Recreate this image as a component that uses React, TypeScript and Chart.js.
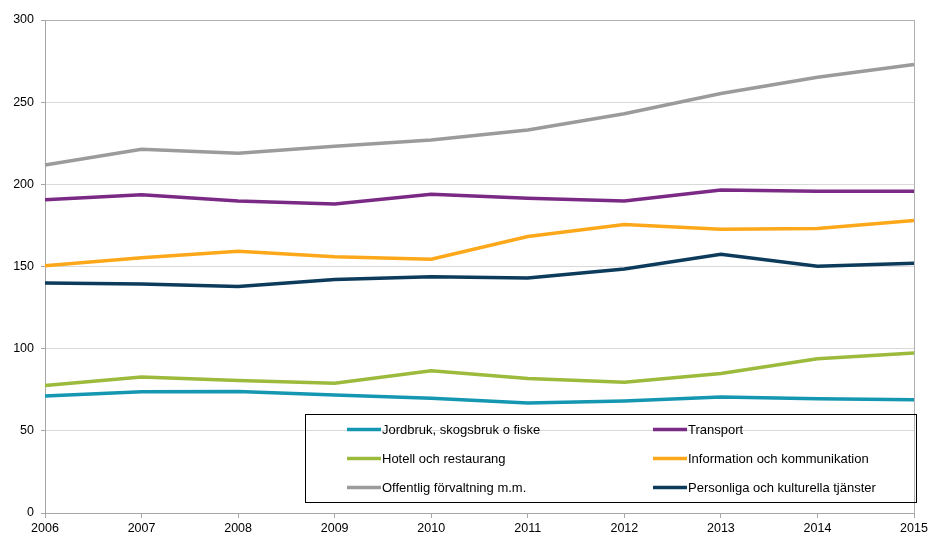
import React, { useEffect, useRef } from "react";
import { Chart, registerables } from "chart.js";

Chart.register(...registerables);

const years = ["2006", "2007", "2008", "2009", "2010", "2011", "2012", "2013", "2014", "2015"];

const jordbruk = [71.2, 73.8, 73.9, 71.8, 69.9, 66.9, 68.2, 70.6, 69.5, 68.9];
const transport = [190.6, 193.6, 189.9, 188.0, 194.0, 191.5, 189.9, 196.6, 195.8, 195.8];
const hotell = [77.6, 82.8, 80.6, 78.9, 86.6, 81.8, 79.5, 84.9, 93.8, 97.4];
const information = [150.4, 155.3, 159.3, 155.9, 154.4, 168.2, 175.5, 172.7, 173.1, 178.0];
const offentlig = [211.8, 221.3, 218.9, 223.2, 227.0, 233.1, 242.9, 255.3, 265.1, 272.9];
const personliga = [140.0, 139.4, 137.9, 142.1, 143.7, 143.0, 148.5, 157.5, 150.1, 152.0];

const seriesNames = [
  "Jordbruk, skogsbruk o fiske",
  "Transport",
  "Hotell och restaurang",
  "Information och kommunikation",
  "Offentlig förvaltning m.m.",
  "Personliga och kulturella tjänster",
];
const seriesData = [jordbruk, transport, hotell, information, offentlig, personliga];
const seriesColors = ["#1597b1", "#7a2a85", "#9cba3b", "#fca81a", "#9b9b9b", "#0c3b5c"];

const yTicks = [0, 50, 100, 150, 200, 250, 300];

const FONT = "'Liberation Sans', Arial, sans-serif";

const boxLegend = {
  id: "boxLegend",
  afterDraw(chart: any) {
    const { ctx, chartArea } = chart;
    const left = chartArea.left + 260;
    const right = chartArea.right + 2;
    const top = chartArea.bottom - 99;
    const bottom = chartArea.bottom - 11;
    ctx.save();
    ctx.strokeStyle = "#000";
    ctx.lineWidth = 1;
    ctx.strokeRect(left + 0.5, top + 0.5, right - left, bottom - top);
    const colX = [left + 42, left + 348];
    const rowY = [top + 15.5, top + 44.5, top + 73.5];
    ctx.font = `13px ${FONT}`;
    ctx.textBaseline = "middle";
    ctx.textAlign = "left";
    chart.data.datasets.forEach((ds: any, i: number) => {
      const col = i % 2;
      const row = Math.floor(i / 2);
      const x = colX[col];
      const y = rowY[row];
      ctx.strokeStyle = ds.borderColor;
      ctx.lineWidth = 3.5;
      ctx.beginPath();
      ctx.moveTo(x, y);
      ctx.lineTo(x + 34, y);
      ctx.stroke();
      ctx.fillStyle = "#000";
      ctx.fillText(ds.label, x + 35, y + 0.5);
    });
    ctx.restore();
  },
};

export default function App() {
  const ref = useRef<HTMLCanvasElement | null>(null);

  useEffect(() => {
    document.body.style.margin = "0";
    if (!ref.current) return;
    const chart = new Chart(ref.current, {
      type: "line",
      data: {
        labels: years,
        datasets: seriesData.map((d, i) => ({
          label: seriesNames[i],
          data: d,
          borderColor: seriesColors[i],
          backgroundColor: seriesColors[i],
          borderWidth: 3.5,
          pointRadius: 0,
          tension: 0,
          fill: false,
        })),
      },
      options: {
        responsive: false,
        animation: false,
        devicePixelRatio: 1,
        layout: { padding: { top: 20, right: 14, left: 0, bottom: 0 } },
        plugins: {
          legend: { display: false },
          tooltip: { enabled: false },
        },
        scales: {
          x: {
            type: "category",
            offset: false,
            afterFit: (s: any) => {
              s.height = 20;
              s.paddingLeft = 0;
              s.paddingRight = 0;
            },
            border: { display: true, color: "#a6a6a6", width: 1 },
            grid: {
              display: true,
              drawOnChartArea: true,
              color: (c: any) => (c.index === years.length - 1 ? "#b0b0b0" : "rgba(0,0,0,0)"),
              tickColor: "#a6a6a6",
              tickLength: 5,
            },
            ticks: {
              color: "#000",
              font: { family: FONT, size: 12.5 },
              padding: 3,
              maxRotation: 0,
              autoSkip: false,
            },
          },
          y: {
            min: 0,
            max: 300,
            afterFit: (s: any) => {
              s.width = 45;
              s.paddingTop = 0;
              s.paddingBottom = 0;
            },
            afterBuildTicks: (s: any) => {
              s.ticks = yTicks.map((v) => ({ value: v }));
            },
            border: { display: true, color: "#a6a6a6", width: 1 },
            grid: {
              color: (c: any) => (c.tick && c.tick.value === 300 ? "#b0b0b0" : "#d9d9d9"),
              tickColor: "#a6a6a6",
              tickLength: 4,
            },
            ticks: {
              color: "#000",
              font: { family: FONT, size: 12.5 },
              padding: 7,
            },
          },
        },
      },
      plugins: [boxLegend],
    });
    return () => chart.destroy();
  }, []);

  return (
    <div style={{ position: "absolute", left: 0, top: 0, width: 928, height: 533 }}>
      <canvas ref={ref} width={928} height={533} />
    </div>
  );
}
